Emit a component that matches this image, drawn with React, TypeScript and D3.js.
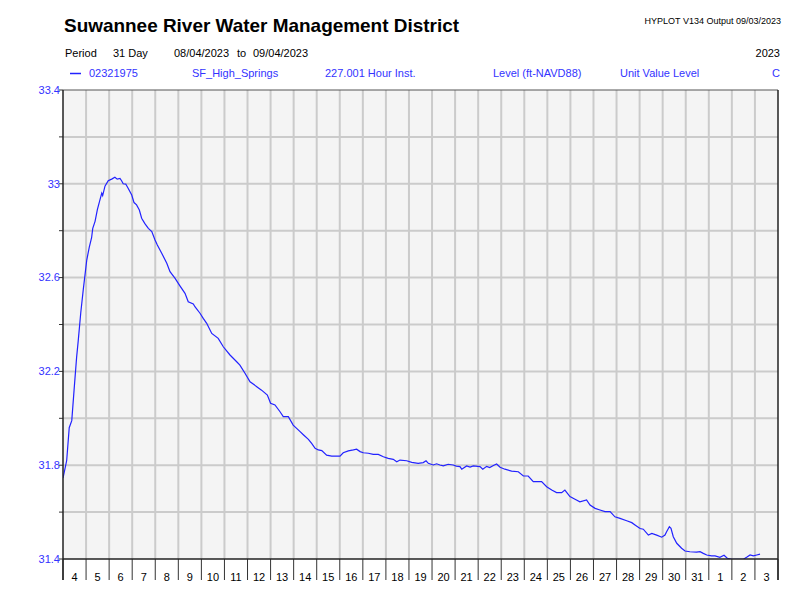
import React from "react";
import * as d3 from "d3";

// ---- data ----
const startDate = new Date(2023, 7, 4);
const endDate = new Date(2023, 8, 4);

// time of each reading, in days since 08/04/2023 00:00
const dayOffsets = [
  0.0, 0.16, 0.27, 0.38, 0.48, 0.59, 0.66, 0.77, 0.88, 1.03, 1.14, 1.24, 1.29, 1.39, 1.49, 1.57,
  1.68, 1.72, 1.82, 1.96, 2.11, 2.25, 2.35, 2.47, 2.54, 2.61, 2.72, 2.83, 2.98, 3.08, 3.19, 3.31,
  3.41, 3.55, 3.7, 3.85, 3.99, 4.09, 4.28, 4.5, 4.64, 4.86, 5.07, 5.29, 5.43, 5.65, 5.72, 5.94,
  6.08, 6.23, 6.45, 6.73, 6.95, 7.24, 7.53, 7.67, 7.89, 8.11, 8.4, 8.61, 8.86, 9.0, 9.19, 9.41,
  9.55, 9.77, 9.98, 10.13, 10.28, 10.42, 10.64, 10.78, 10.93, 11.07, 11.22, 11.43, 11.65, 12.01,
  12.15, 12.37, 12.59, 12.73, 12.88, 13.02, 13.24, 13.45, 13.67, 13.89, 14.1, 14.32, 14.47, 14.61,
  14.9, 15.12, 15.4, 15.62, 15.74, 15.84, 16.05, 16.2, 16.34, 16.49, 16.7, 16.92, 17.05, 17.21,
  17.29, 17.5, 17.65, 17.79, 18.08, 18.2, 18.37, 18.5, 18.66, 18.8, 18.95, 19.16, 19.45, 19.74,
  19.96, 20.17, 20.39, 20.54, 20.75, 20.97, 21.19, 21.4, 21.62, 21.76, 21.98, 22.2, 22.41, 22.7,
  22.85, 23.07, 23.28, 23.5, 23.72, 23.93, 24.15, 24.44, 24.66, 24.8, 25.02, 25.16, 25.38, 25.53,
  25.74, 25.96, 26.1, 26.17, 26.29, 26.36, 26.46, 26.61, 26.82, 26.97, 27.18, 27.47, 27.62, 27.76,
  27.91, 28.12, 28.27, 28.48, 28.66, 28.8, 29.06, 29.35, 29.5, 29.64, 29.79, 29.93, 30.08, 30.22,
];

// water level, ft-NAVD88
const levels = [
  31.745, 31.82, 31.96, 31.99, 32.12, 32.26, 32.33, 32.45, 32.55, 32.675, 32.73, 32.77, 32.81, 32.84, 32.89, 32.92,
  32.96, 32.95, 32.99, 33.013, 33.02, 33.028, 33.02, 33.023, 33.013, 33.0, 32.999, 32.98, 32.952, 32.92, 32.91, 32.888,
  32.853, 32.83, 32.81, 32.796, 32.76, 32.739, 32.704, 32.661, 32.625, 32.597, 32.565, 32.533, 32.497, 32.488, 32.476, 32.448,
  32.426, 32.405, 32.362, 32.341, 32.305, 32.27, 32.241, 32.227, 32.192, 32.156, 32.135, 32.12, 32.099, 32.064, 32.057, 32.028,
  32.007, 32.007, 31.971, 31.957, 31.943, 31.93, 31.91, 31.893, 31.872, 31.865, 31.862, 31.843, 31.839, 31.839,
  31.853, 31.861, 31.865, 31.868, 31.858, 31.853, 31.851, 31.846, 31.846, 31.836, 31.829, 31.825, 31.815, 31.822,
  31.819, 31.812, 31.808, 31.811, 31.819, 31.808, 31.801, 31.806, 31.801, 31.797, 31.804, 31.801, 31.796, 31.794,
  31.783, 31.797, 31.792, 31.797, 31.794, 31.783, 31.795, 31.79, 31.799, 31.805, 31.791, 31.783, 31.775, 31.772,
  31.754, 31.754, 31.73, 31.73, 31.73, 31.708, 31.694, 31.683, 31.683, 31.694, 31.666, 31.655, 31.644, 31.652,
  31.63, 31.616, 31.609, 31.602, 31.602, 31.58, 31.573, 31.563, 31.555, 31.545, 31.53, 31.527, 31.502, 31.509,
  31.502, 31.493, 31.502, 31.516, 31.538, 31.531, 31.495, 31.467, 31.446, 31.434, 31.431, 31.429, 31.431, 31.424,
  31.417, 31.413, 31.413, 31.407, 31.416, 31.403, 31.398, 31.398, 31.399, 31.407, 31.417, 31.413, 31.417, 31.421,
];

const yTicks = [31.4, 31.6, 31.8, 32.0, 32.2, 32.4, 32.6, 32.8, 33.0, 33.2, 33.4];
const yLabels = [31.4, 31.8, 32.2, 32.6, 33.0, 33.4];

const title = "Suwannee River Water Management District";
const versionText = "HYPLOT V134  Output 09/03/2023";
const periodRow = [
  { text: "Period", x: 65 },
  { text: "31 Day", x: 113 },
  { text: "08/04/2023", x: 174 },
  { text: "to", x: 237 },
  { text: "09/04/2023", x: 253 },
];
const legendRow = [
  { text: "02321975", x: 89 },
  { text: "SF_High_Springs", x: 192 },
  { text: "227.001 Hour Inst.", x: 325 },
  { text: "Level (ft-NAVD88)", x: 493 },
  { text: "Unit Value Level", x: 620 },
];

const FONT = "Arial, 'Liberation Sans', sans-serif";
const BLUE = "#3333ff";
const LINE = "#2222ff";

export default function App() {
  const L = 63, R = 778, T = 90, B = 559;
  const x = d3.scaleTime().domain([startDate, endDate]).range([L, R]);
  const y = d3.scaleLinear().domain([31.4, 33.4]).range([B, T]);

  const points = dayOffsets.map((d, i) => ({
    t: new Date(startDate.getTime() + d * 86400000),
    v: levels[i],
  }));
  const line = d3
    .line<{ t: Date; v: number }>()
    .x((p) => x(p.t))
    .y((p) => y(p.v));

  const dayBounds = d3.timeDay.range(startDate, d3.timeDay.offset(endDate, 1));
  const days = d3.timeDay.range(startDate, endDate);

  return (
    <svg
      width={800}
      height={600}
      style={{ position: "absolute", left: 0, top: 0, background: "#fff" }}
      fontFamily={FONT}
    >
      <rect x={0} y={0} width={800} height={600} fill="#fff" />
      {/* header */}
      <text x={64} y={32} fontSize={19} fontWeight="bold" fill="#000" textLength={395} lengthAdjust="spacingAndGlyphs">
        {title}
      </text>
      <text x={781} y={24} fontSize={9} fill="#000" textAnchor="end">
        {versionText}
      </text>
      {periodRow.map((p) => (
        <text key={p.text} x={p.x} y={57} fontSize={11} fill="#000">
          {p.text}
        </text>
      ))}
      <text x={780} y={57} fontSize={11} fill="#000" textAnchor="end">
        2023
      </text>
      <line x1={70} x2={81} y1={73.5} y2={73.5} stroke={LINE} strokeWidth={1.5} />
      {legendRow.map((p) => (
        <text key={p.text} x={p.x} y={77} fontSize={11} fill={BLUE}>
          {p.text}
        </text>
      ))}
      <text x={780} y={77} fontSize={11} fill={BLUE} textAnchor="end">
        C
      </text>

      {/* plot background */}
      <rect x={L} y={T} width={R - L} height={B - T} fill="#f4f4f4" />
      <defs>
        <clipPath id="plotClip">
          <rect x={L} y={T} width={R - L} height={B - T} />
        </clipPath>
      </defs>
      {/* grid */}
      {yTicks.slice(1, -1).map((v) => (
        <line key={"gy" + v} x1={L} x2={R} y1={y(v)} y2={y(v)} stroke="#cbcbcb" strokeWidth={2} />
      ))}
      {dayBounds.slice(1, -1).map((d) => (
        <line key={"gx" + d.getTime()} x1={x(d)} x2={x(d)} y1={T} y2={B} stroke="#cbcbcb" strokeWidth={2} />
      ))}
      {/* y ticks and labels */}
      {yTicks.map((v) => (
        <line key={"ty" + v} x1={L - 4} x2={L} y1={y(v)} y2={y(v)} stroke="#333" strokeWidth={1} />
      ))}
      {yLabels.map((v) => (
        <text key={"ly" + v} x={60} y={y(v)} dy="0.35em" fontSize={11} fill={BLUE} textAnchor="end">
          {String(v)}
        </text>
      ))}
      {/* x day separators below the plot */}
      {dayBounds.map((d) => (
        <line key={"tx" + d.getTime()} x1={x(d)} x2={x(d)} y1={B} y2={580} stroke="#333" strokeWidth={1} />
      ))}
      {days.map((d) => (
        <text
          key={"lx" + d.getTime()}
          x={(x(d) + x(d3.timeDay.offset(d, 1))) / 2}
          y={581}
          fontSize={11}
          fill="#000"
          textAnchor="middle"
        >
          {d.getDate()}
        </text>
      ))}
      {/* series */}
      <path d={line(points) || ""} fill="none" stroke={LINE} strokeWidth={1.2} clipPath="url(#plotClip)" />
      {/* frame */}
      <line x1={L} x2={R} y1={T} y2={T} stroke="#555" strokeWidth={1} />
      <line x1={L} x2={R} y1={B} y2={B} stroke="#222" strokeWidth={1.5} />
      <line x1={L} x2={L} y1={T} y2={580} stroke="#222" strokeWidth={1.5} />
      <line x1={R} x2={R} y1={T} y2={580} stroke="#222" strokeWidth={1.5} />
    </svg>
  );
}
